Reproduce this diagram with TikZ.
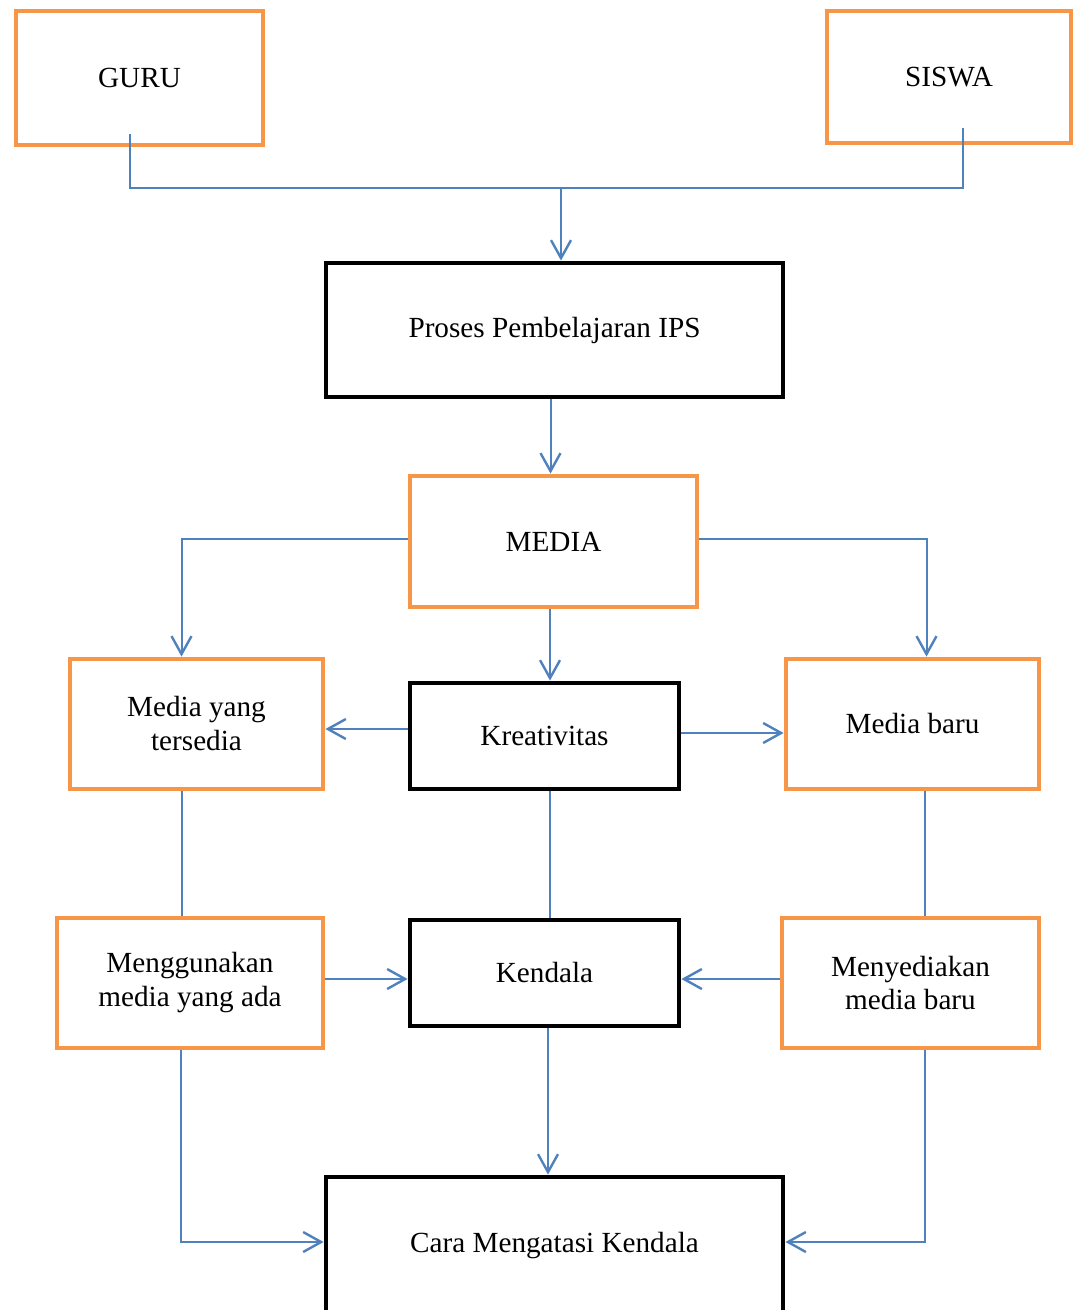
\documentclass[tikz,border=0pt]{standalone}
\usepackage{fontspec}
\setmainfont{Liberation Serif}
\usepackage{tikz}
\usetikzlibrary{arrows.meta, positioning}
\usepackage{xcolor}
\definecolor{boxorange}{RGB}{247, 150, 70}
\definecolor{lineblue}{RGB}{79, 129, 189}

\begin{document}
\begin{tikzpicture}[x=0.5pt, y=-0.5pt,
    obox/.style={draw=boxorange, line width=2.4pt, align=center, inner sep=0pt},
    kbox/.style={draw=black, line width=2.4pt, align=center, inner sep=0pt},
    link/.style={draw=lineblue, line width=1pt},
    arr/.style={link, -{Straight Barb[length=9pt, width=10pt, line width=1.2pt]}},
    font=\fontsize{14.6}{17}\selectfont]
    \useasboundingbox (0,0) rectangle (1083,1310);

    \node[obox, minimum width=123.5pt, minimum height=67pt] (guru) at (139.5,78) {GURU};
    \node[obox, minimum width=122pt, minimum height=66pt] (siswa) at (949,77) {SISWA};
    \node[kbox, minimum width=228.5pt, minimum height=67pt] (proses) at (554.5,330) {Proses Pembelajaran IPS};
    \node[obox, minimum width=143.5pt, minimum height=65.5pt] (media) at (553.5,541.5) {MEDIA};
    \node[obox, minimum width=126.5pt, minimum height=65pt] (tersedia) at (196.5,724) {Media yang\\tersedia};
    \node[kbox, minimum width=134.5pt, minimum height=53pt] (kreativitas) at (544.5,736) {Kreativitas};
    \node[obox, minimum width=126.5pt, minimum height=65pt] (baru) at (912.5,724) {Media baru};
    \node[obox, minimum width=133pt, minimum height=65pt] (menggunakan) at (190,983) {Menggunakan\\media yang ada};
    \node[kbox, minimum width=134.5pt, minimum height=53pt] (kendala) at (544.5,973) {Kendala};
    \node[obox, minimum width=128.5pt, minimum height=65pt] (menyediakan) at (910.5,983) {Menyediakan\\media baru};
    \node[kbox, minimum width=228.5pt, minimum height=69pt] (cara) at (554.5,1246) {Cara Mengatasi Kendala};

    % guru dan siswa ke proses
    \coordinate (bus) at (561,188);
    \draw[link] ([shift={(-9.5,-13)}]guru.south) |- (bus) -| ([shift={(14,-17)}]siswa.south);
    \draw[arr] (bus) -- (bus |- proses.north);
    \draw[arr] ([shift={(-4,0)}]proses.south) -- ([shift={(-4,0)}]proses.south |- media.north);

    % media ke tiga cabang
    \draw[arr] ([shift={(0,-2.5)}]media.west) -| ([shift={(-15,0)}]tersedia.north);
    \draw[arr] ([shift={(0,-2.5)}]media.east) -| ([shift={(14,0)}]baru.north);
    \draw[arr] ([shift={(-3.5,0)}]media.south) -- ([shift={(-3.5,0)}]media.south |- kreativitas.north);
    \draw[arr] ([shift={(0,-7)}]kreativitas.west) -- ([shift={(0,-7)}]kreativitas.west -| tersedia.east);
    \draw[arr] ([shift={(0,-3)}]kreativitas.east) -- ([shift={(0,-3)}]kreativitas.east -| baru.west);

    % garis turun
    \draw[link] ([shift={(-14.5,0)}]tersedia.south) -- ([shift={(-14.5,0)}]tersedia.south |- menggunakan.north);
    \draw[link] ([shift={(-3.5,0)}]media.south |- kreativitas.south) -- ([shift={(-3.5,0)}]media.south |- kendala.north);
    \draw[link] ([shift={(12.5,0)}]baru.south) -- ([shift={(12.5,0)}]baru.south |- menyediakan.north);

    % ke kendala
    \draw[arr] ([shift={(0,-4)}]menggunakan.east) -- ([shift={(0,-4)}]menggunakan.east -| kendala.west);
    \draw[arr] ([shift={(0,-4)}]menyediakan.west) -- ([shift={(0,-4)}]menyediakan.west -| kendala.east);

    % ke cara mengatasi
    \draw[arr] ([shift={(3.5,0)}]kendala.south) -- ([shift={(3.5,0)}]kendala.south |- cara.north);
    \draw[arr] ([shift={(-9,0)}]menggunakan.south) |- ([shift={(0,-4)}]cara.west);
    \draw[arr] ([shift={(14.5,0)}]menyediakan.south) |- ([shift={(0,-4)}]cara.east);
\end{tikzpicture}
\end{document}
